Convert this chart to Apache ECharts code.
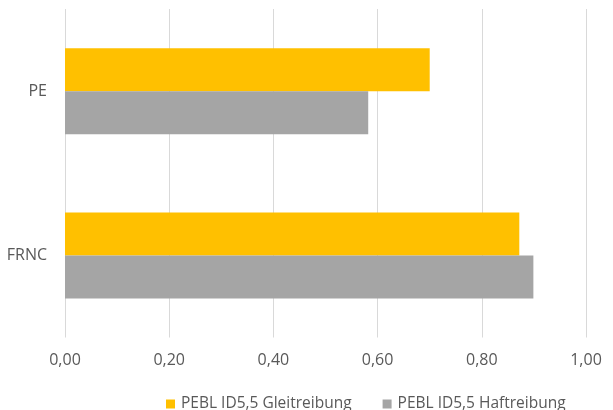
<!DOCTYPE html>
<html>
<head>
<meta charset="utf-8">
<script src="https://cdn.jsdelivr.net/npm/echarts@6/dist/echarts.min.js"></script>
<style>
html,body{margin:0;padding:0;background:#fff;}
#c{width:613px;height:410px;}
</style>
</head>
<body>
<div id="c"></div>
<script>
var categories = ['PE', 'FRNC'];
var seriesNames = ['PEBL ID5,5 Gleitreibung', 'PEBL ID5,5 Haftreibung'];
var gleitValues = [0.70, 0.872];
var haftValues = [0.582, 0.899];
var tickValues = [0, 0.2, 0.4, 0.6, 0.8, 1.0];

var chart = echarts.init(document.getElementById('c'), null, {renderer: 'canvas'});
var font = '"Open Sans", "Liberation Sans", sans-serif';
chart.setOption({
  animation: false,
  backgroundColor: '#ffffff',
  textStyle: {fontFamily: font},
  grid: {left: 65, right: 27, top: 9, bottom: 72.5, containLabel: false},
  legend: {
    data: seriesNames,
    left: 161,
    top: 391,
    itemWidth: 9,
    itemHeight: 9,
    itemGap: 31,
    icon: 'rect',
    textStyle: {color: '#595959', fontSize: 15.5, fontFamily: font, padding: [0, 0, 0, 1]}
  },
  xAxis: {
    type: 'value',
    min: tickValues[0],
    max: tickValues[tickValues.length - 1],
    interval: 0.2,
    axisLine: {show: false},
    axisTick: {show: false},
    splitLine: {show: true, lineStyle: {color: '#D9D9D9', width: 1}},
    axisLabel: {
      color: '#595959', fontSize: 16, fontFamily: font, margin: 15,
      formatter: function (v) { return v.toFixed(2).replace('.', ','); }
    }
  },
  yAxis: {
    type: 'category',
    data: categories,
    inverse: true,
    axisLine: {show: false},
    axisTick: {show: false},
    splitLine: {show: false},
    axisLabel: {color: '#595959', fontSize: 16, fontFamily: font, margin: 18}
  },
  series: [
    {name: seriesNames[0], type: 'bar', data: gleitValues, barWidth: 43, barGap: '0%',
     itemStyle: {color: '#FFC000'}},
    {name: seriesNames[1], type: 'bar', data: haftValues, barWidth: 43, barGap: '0%',
     itemStyle: {color: '#A5A5A5'}}
  ]
});
</script>
</body>
</html>
